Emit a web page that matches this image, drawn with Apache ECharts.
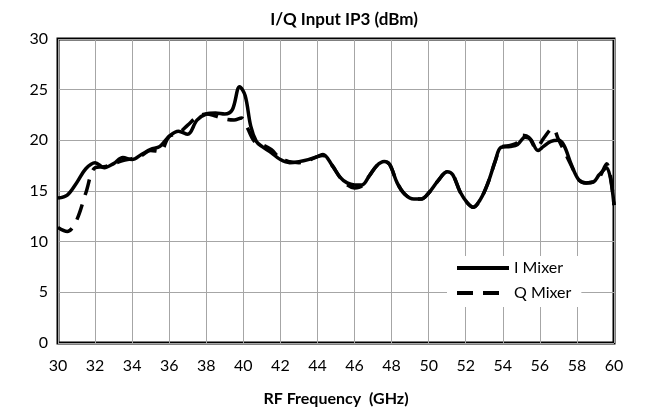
<!DOCTYPE html>
<html>
<head>
<meta charset="utf-8">
<script src="https://cdn.jsdelivr.net/npm/echarts@6/dist/echarts.min.js"></script>
<style>html,body{margin:0;padding:0;background:#fff;}#c{width:649px;height:415px;}</style>
</head>
<body>
<div id="c"></div>
<script>
const iFreq = [30.0,30.5,31.0,31.5,32.0,32.5,33.0,33.5,34.0,34.5,35.0,35.5,36.0,36.5,37.0,37.5,38.0,38.5,39.0,39.4,39.8,40.1,40.4,40.7,41.0,41.5,42.0,42.5,43.0,43.5,44.0,44.3,44.8,45.2,45.6,46.0,46.4,46.8,47.2,47.6,47.9,48.3,48.7,49.2,49.6,50.0,50.5,51.0,51.3,51.7,52.1,52.4,52.8,53.2,53.6,53.9,54.4,54.8,55.2,55.5,55.9,56.2,56.6,57.0,57.3,57.7,58.1,58.5,58.9,59.2,59.6,60.0];
const iMixer = [14.3,14.6,15.8,17.2,17.8,17.3,17.7,18.3,18.1,18.6,19.1,19.4,20.4,20.9,20.6,22.0,22.6,22.7,22.6,23.0,25.3,24.4,21.4,19.9,19.4,18.8,18.1,17.8,17.9,18.1,18.4,18.6,17.5,16.4,15.8,15.6,15.6,16.5,17.5,17.9,17.6,15.8,14.7,14.2,14.2,14.8,16.0,16.9,16.6,14.9,13.8,13.4,14.2,15.8,18.0,19.3,19.4,19.6,20.3,20.1,19.0,19.4,19.9,20.0,19.5,17.6,16.1,15.8,15.9,16.6,17.3,13.6];
const qFreq = [30.0,30.5,31.0,31.5,32.0,32.5,33.0,33.5,34.0,34.5,35.0,35.5,36.0,36.5,37.0,37.5,38.0,38.5,39.0,39.5,39.9,40.2,40.6,41.0,41.5,42.0,42.5,43.0,43.5,44.0,44.3,44.8,45.2,45.6,46.0,46.4,46.8,47.2,47.6,47.9,48.3,48.7,49.2,49.6,50.0,50.5,51.0,51.3,51.7,52.1,52.4,52.8,53.2,53.6,53.9,54.4,54.8,55.0,55.4,55.8,56.2,56.7,57.0,57.3,57.7,58.1,58.5,58.9,59.2,59.6,60.0];
const qMixer = [11.4,11.0,12.1,14.8,17.3,17.4,17.7,18.0,18.2,18.5,19.0,18.9,20.4,20.7,21.5,22.3,22.6,22.4,22.1,22.0,22.2,21.3,19.9,19.6,19.1,18.2,17.9,17.8,18.0,18.4,18.5,17.5,16.4,15.6,15.3,15.5,16.5,17.5,17.9,17.6,15.8,14.7,14.2,14.2,14.8,16.0,16.9,16.6,14.9,13.8,13.4,14.2,15.8,18.0,19.3,19.5,19.8,20.5,20.3,19.2,20.2,21.2,20.1,19.0,17.5,16.1,15.8,15.9,16.3,17.7,13.6];
const seriesNames = ['I Mixer','Q Mixer'];
const chartTitle = 'I/Q Input IP3 (dBm)';
const xAxisTitle = 'RF Frequency  (GHz)';

const FONT = 'Lato, "Open Sans", sans-serif';
const chart = echarts.init(document.getElementById('c'), null, {renderer:'canvas'});
chart.setOption({
  animation: false,
  backgroundColor: '#fff',
  title: {
    text: chartTitle, left: 339, top: 6, textAlign: 'center',
    textStyle: {fontFamily: FONT, fontSize: 17, fontWeight: 'bold', color: '#000'}
  },
  grid: {left: 58, right: 35, top: 39, bottom: 72, show: true, borderColor: '#000', borderWidth: 3, backgroundColor: 'transparent'},
  xAxis: {
    type: 'value', min: 30, max: 60, interval: 2,
    name: xAxisTitle, nameLocation: 'middle', nameGap: 48,
    nameTextStyle: {fontFamily: FONT, fontSize: 16, fontWeight: 'bold', color: '#000'},
    axisLine: {show: false}, axisTick: {show: false},
    axisLabel: {fontFamily: FONT, fontSize: 16, color: '#000', margin: 15},
    splitLine: {show: true, lineStyle: {color: '#a6a6a6', width: 1}}
  },
  yAxis: {
    type: 'value', min: 0, max: 30, interval: 5,
    axisLine: {show: false}, axisTick: {show: false},
    axisLabel: {fontFamily: FONT, fontSize: 16, color: '#000', margin: 10},
    splitLine: {show: true, lineStyle: {color: '#a6a6a6', width: 1}}
  },
  legend: {
    orient: 'vertical', left: 447, top: 256,
    backgroundColor: '#fff', padding: [4, 10, 6, 8],
    itemWidth: 52, itemHeight: 12, itemGap: 9,
    itemStyle: {opacity: 0},
    lineStyle: {width: 4},
    textStyle: {fontFamily: FONT, fontSize: 16, color: '#000'},
    data: seriesNames
  },
  series: [
    {name: seriesNames[0], type: 'line', smooth: 0.35, symbol: 'none',
     data: iFreq.map((f, k) => [f, iMixer[k]]),
     lineStyle: {color: '#000', width: 3.5}, itemStyle: {color: '#000'}, z: 3},
    {name: seriesNames[1], type: 'line', smooth: 0.35, symbol: 'none',
     data: qFreq.map((f, k) => [f, qMixer[k]]),
     lineStyle: {color: '#000', width: 3.5, type: [16, 10]}, itemStyle: {color: '#000'}, z: 2}
  ]
});
</script>
</body>
</html>
